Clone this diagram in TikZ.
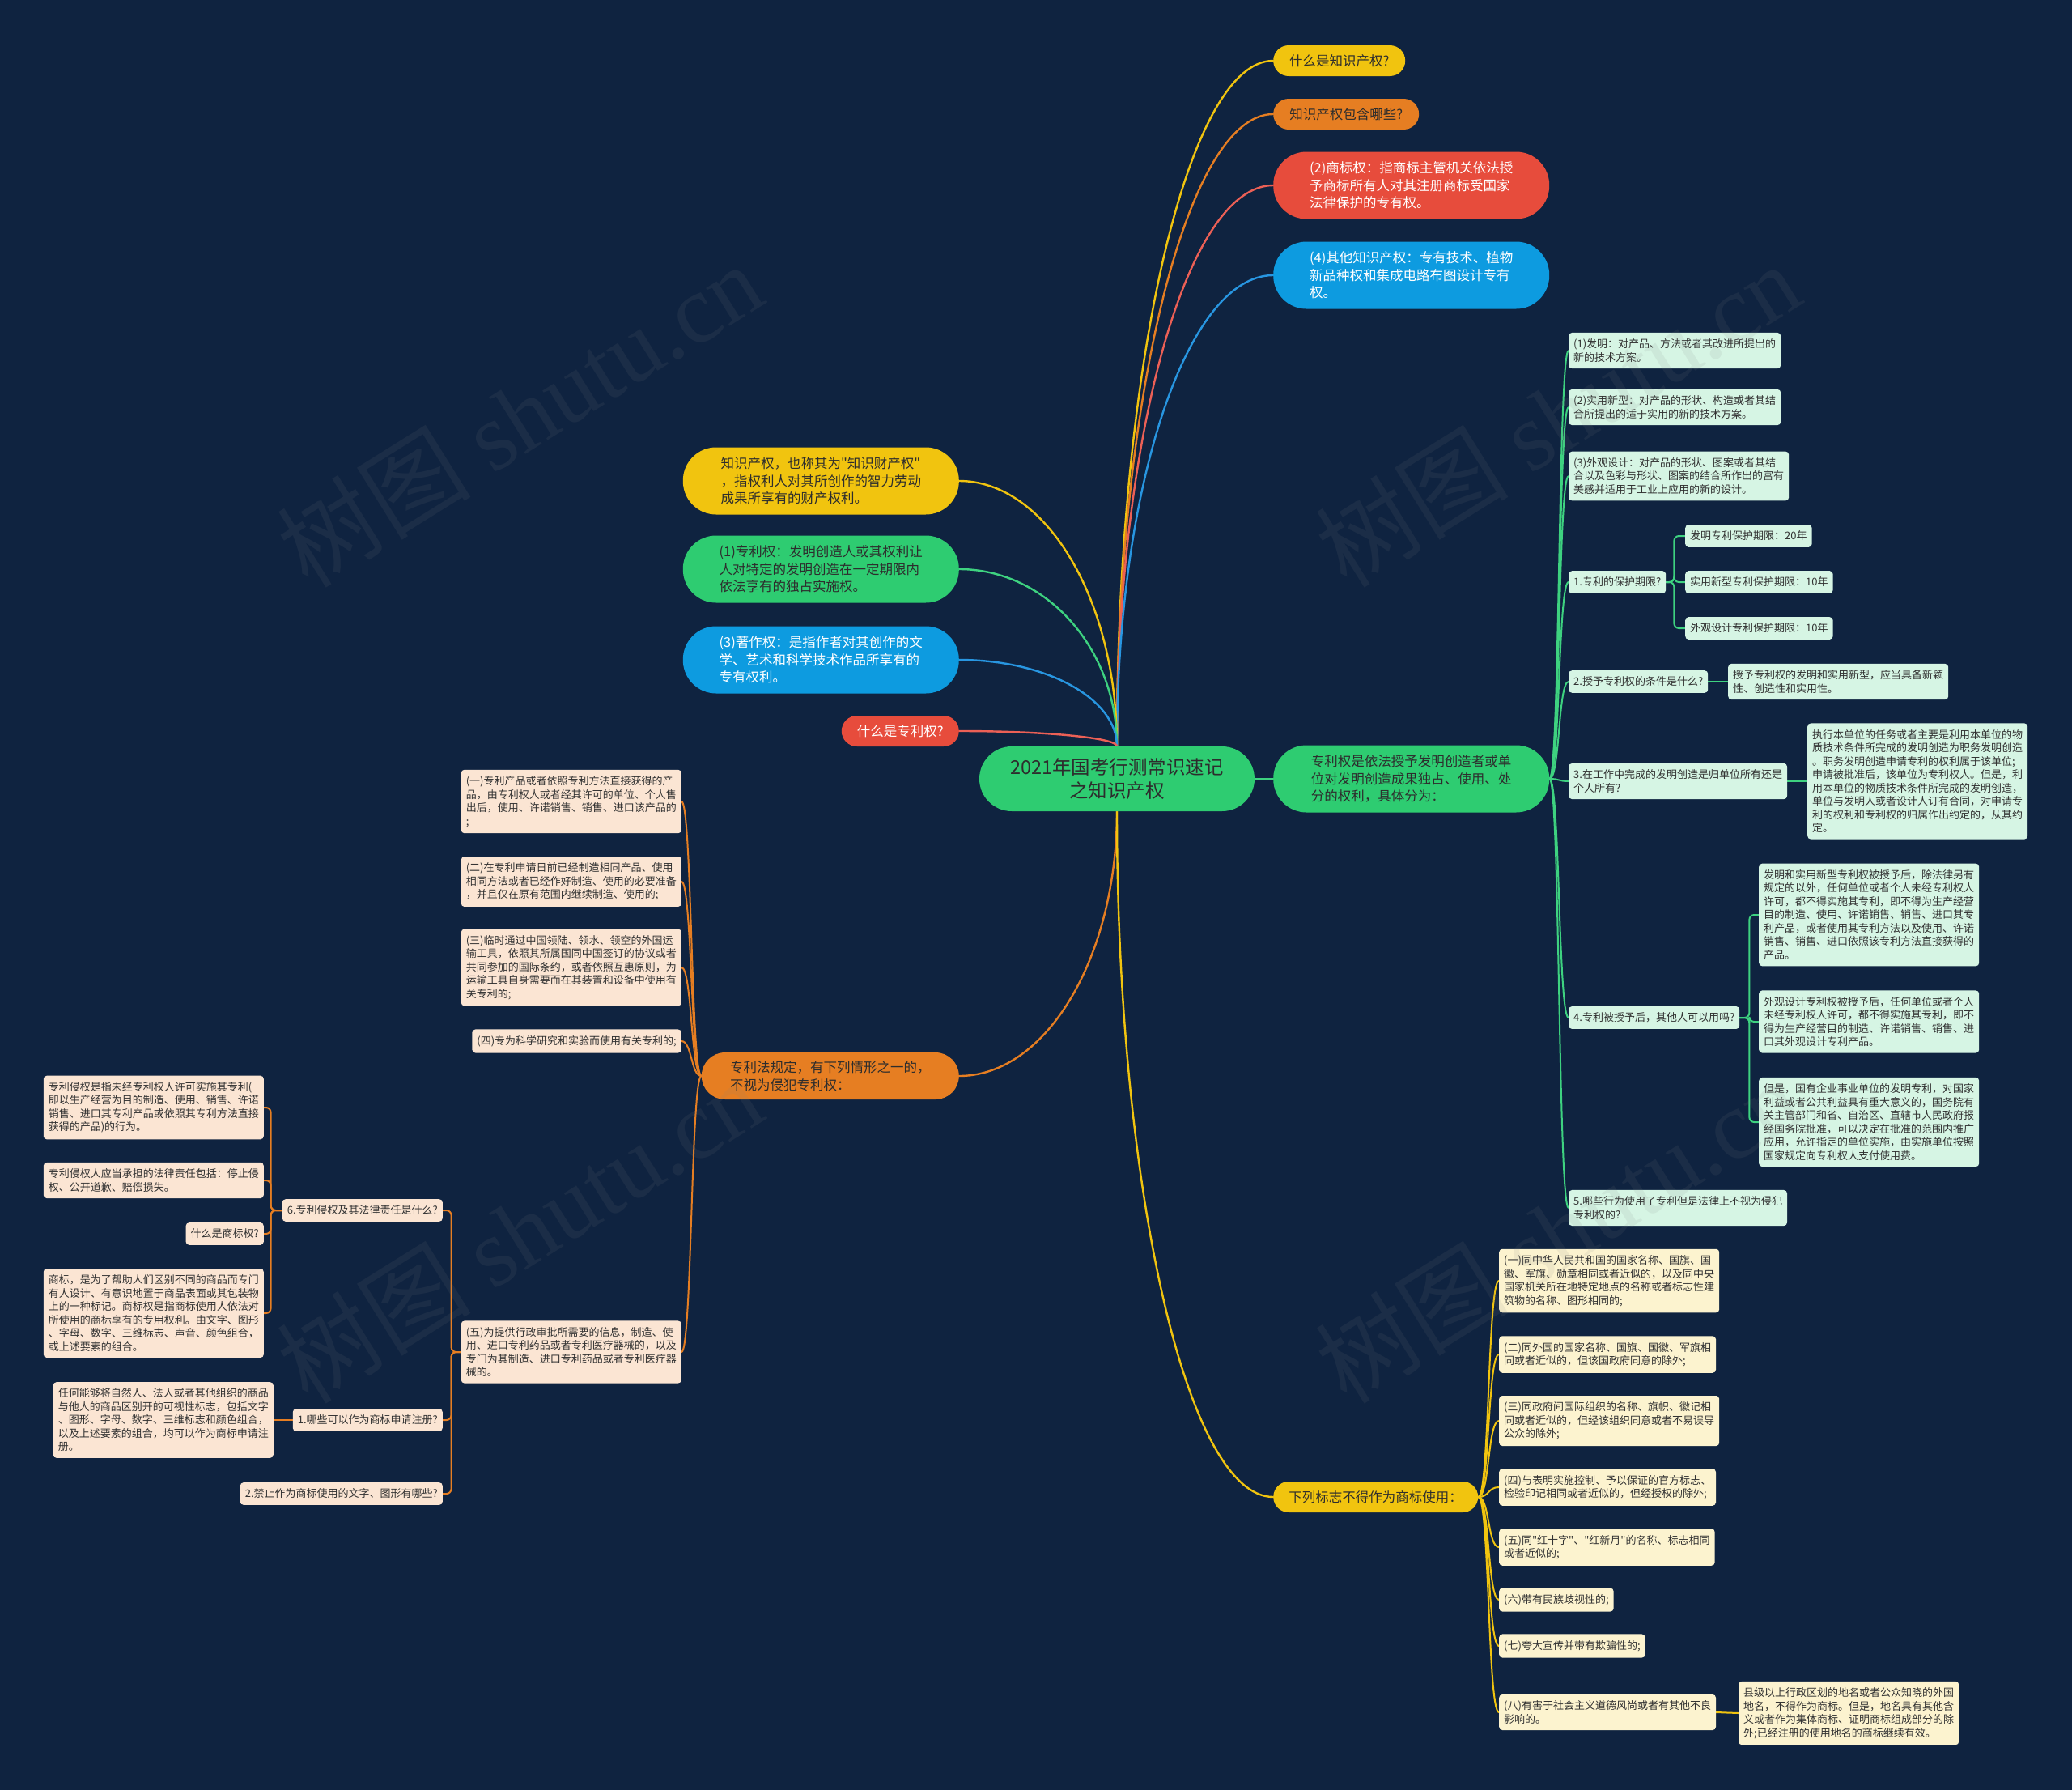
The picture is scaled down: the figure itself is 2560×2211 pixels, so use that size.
\documentclass[tikz,border=0pt]{standalone}
\usepackage{fontspec}
\setmainfont{Noto Sans CJK SC}[Ligatures=TeXOff]
\newfontfamily\wmserif{Liberation Serif}
\usetikzlibrary{calc}
\definecolor{bgc}{RGB}{15,35,64}
\definecolor{cY}{RGB}{241,196,15}
\definecolor{cO}{RGB}{230,126,34}
\definecolor{cR}{RGB}{231,76,60}
\definecolor{cB}{RGB}{13,155,224}
\definecolor{cG}{RGB}{46,204,113}
\definecolor{lineR}{RGB}{236,96,86}
\definecolor{lineB}{RGB}{40,150,225}
\definecolor{lineG}{RGB}{62,210,128}
\definecolor{tdark}{RGB}{45,45,45}
\definecolor{ldark}{RGB}{50,50,50}
\definecolor{lgG}{RGB}{214,245,228}
\definecolor{lgO}{RGB}{251,229,211}
\definecolor{lgY}{RGB}{252,243,207}
\newcommand\fleaf{\fontsize{13}{16.5}\selectfont}
\newcommand\fpill{\fontsize{16.5}{21.5}\selectfont}
\newcommand\fcenter{\fontsize{23.5}{29}\selectfont}
\newcommand\fwm{\fontsize{120}{140}\selectfont}
\pgfdeclarelayer{bglayer}
\pgfsetlayers{bglayer,main}
\tikzset{
  pillbase/.style={inner sep=0pt, font=\fpill, align=left},
  pY/.style={pillbase, fill=cY, text=tdark},
  pO/.style={pillbase, fill=cO, text=tdark},
  pR/.style={pillbase, fill=cR, text=white},
  pB/.style={pillbase, fill=cB, text=white},
  pG/.style={pillbase, fill=cG, text=tdark},
  smallpill/.style={minimum height=38pt, rounded corners=19pt},
  bigpill/.style={minimum height=83pt, rounded corners=41pt},
  leaf/.style={inner xsep=6pt, inner ysep=7.75pt, rounded corners=4pt, font=\fleaf, align=left, text=ldark},
  lG/.style={leaf, fill=lgG},
  lO/.style={leaf, fill=lgO},
  lY/.style={leaf, fill=lgY},
  mainline/.style={line width=2.4pt, line cap=round},
  subline/.style={line width=2pt, line cap=round},
  vh/.style={to path={let \p1=(\tikztostart), \p2=(\tikztotarget) in
     .. controls (\x1,{\y1+0.552*(\y2-\y1)}) and ({\x2-0.552*(\x2-\x1)},\y2) .. (\tikztotarget)}},
  wmark/.style={text=gray, opacity=0.11, rotate=32, inner sep=0pt},
}
\begin{document}
\begin{tikzpicture}[x=1pt,y=-1pt]
\useasboundingbox (0,0) rectangle (2560,2211);

% ---------- main topic and first-level pills ----------
\node[pG, font=\fcenter, align=center, minimum width=340pt, minimum height=80pt, rounded corners=40pt] (c) at (1380,962) {2021年国考行测常识速记\\之知识产权};

\node[pY, smallpill, minimum width=163pt, anchor=west] (q1) at (1573,75) {什么是知识产权?};
\node[pO, smallpill, minimum width=180pt, anchor=west] (q2) at (1573,141) {知识产权包含哪些?};
\node[pR, bigpill, minimum width=341pt, anchor=west] (tm) at (1573,229) {(2)商标权：指商标主管机关依法授\\予商标所有人对其注册商标受国家\\法律保护的专有权。};
\node[pB, bigpill, minimum width=341pt, anchor=west] (ot) at (1573,340) {(4)其他知识产权：专有技术、植物\\新品种权和集成电路布图设计专有\\权。};

\node[pY, bigpill, minimum width=341pt, anchor=east] (ip) at (1185,594) {知识产权，也称其为"知识财产权"\\，指权利人对其所创作的智力劳动\\成果所享有的财产权利。};
\node[pG, bigpill, minimum width=341pt, anchor=east] (pt) at (1185,703) {(1)专利权：发明创造人或其权利让\\人对特定的发明创造在一定期限内\\依法享有的独占实施权。};
\node[pB, bigpill, minimum width=341pt, anchor=east] (cr) at (1185,815) {(3)著作权：是指作者对其创作的文\\学、艺术和科学技术作品所享有的\\专有权利。};
\node[pR, smallpill, minimum width=145pt, anchor=east] (qp) at (1185,903) {什么是专利权?};

\node[pG, bigpill, minimum width=341pt, anchor=west] (pm) at (1573,962) {专利权是依法授予发明创造者或单\\位对发明创造成果独占、使用、处\\分的权利，具体分为：};
\node[pO, minimum width=318pt, minimum height=58pt, rounded corners=29pt, anchor=east] (inf) at (1185,1329) {专利法规定，有下列情形之一的，\\不视为侵犯专利权：};
\node[pY, smallpill, minimum width=253pt, anchor=west] (tmk) at (1573,1849) {下列标志不得作为商标使用：};

% ---------- green branch ----------
\node[lG, anchor=west] (g1) at (1938,433) {(1)发明：对产品、方法或者其改进所提出的\\新的技术方案。};
\node[lG, anchor=west] (g2) at (1938,503) {(2)实用新型：对产品的形状、构造或者其结\\合所提出的适于实用的新的技术方案。};
\node[lG, anchor=west] (g3) at (1938,588) {(3)外观设计：对产品的形状、图案或者其结\\合以及色彩与形状、图案的结合所作出的富有\\美感并适用于工业上应用的新的设计。};
\node[lG, anchor=west] (g4) at (1938,719) {1.专利的保护期限?};
\node[lG, anchor=west] (g41) at (2082,662) {发明专利保护期限：20年};
\node[lG, anchor=west] (g42) at (2082,719) {实用新型专利保护期限：10年};
\node[lG, anchor=west] (g43) at (2082,776) {外观设计专利保护期限：10年};
\node[lG, anchor=west] (g5) at (1938,842) {2.授予专利权的条件是什么?};
\node[lG, anchor=west] (g51) at (2135,842) {授予专利权的发明和实用新型，应当具备新颖\\性、创造性和实用性。};
\node[lG, anchor=west] (g6) at (1938,965) {3.在工作中完成的发明创造是归单位所有还是\\个人所有?};
\node[lG, anchor=west] (g61) at (2233,965) {执行本单位的任务或者主要是利用本单位的物\\质技术条件所完成的发明创造为职务发明创造\\。职务发明创造申请专利的权利属于该单位;\\申请被批准后，该单位为专利权人。但是，利\\用本单位的物质技术条件所完成的发明创造，\\单位与发明人或者设计人订有合同，对申请专\\利的权利和专利权的归属作出约定的，从其约\\定。};
\node[lG, anchor=west] (g7) at (1938,1257) {4.专利被授予后，其他人可以用吗?};
\node[lG, anchor=west] (g71) at (2173,1130) {发明和实用新型专利权被授予后，除法律另有\\规定的以外，任何单位或者个人未经专利权人\\许可，都不得实施其专利，即不得为生产经营\\目的制造、使用、许诺销售、销售、进口其专\\利产品，或者使用其专利方法以及使用、许诺\\销售、销售、进口依照该专利方法直接获得的\\产品。};
\node[lG, anchor=west] (g72) at (2173,1262) {外观设计专利权被授予后，任何单位或者个人\\未经专利权人许可，都不得实施其专利，即不\\得为生产经营目的制造、许诺销售、销售、进\\口其外观设计专利产品。};
\node[lG, anchor=west] (g73) at (2173,1386) {但是，国有企业事业单位的发明专利，对国家\\利益或者公共利益具有重大意义的，国务院有\\关主管部门和省、自治区、直辖市人民政府报\\经国务院批准，可以决定在批准的范围内推广\\应用，允许指定的单位实施，由实施单位按照\\国家规定向专利权人支付使用费。};
\node[lG, anchor=west] (g8) at (1938,1492) {5.哪些行为使用了专利但是法律上不视为侵犯\\专利权的?};

% ---------- orange branch ----------
\node[lO, anchor=east] (o1) at (842,990) {(一)专利产品或者依照专利方法直接获得的产\\品，由专利权人或者经其许可的单位、个人售\\出后，使用、许诺销售、销售、进口该产品的\\;};
\node[lO, anchor=east] (o2) at (842,1089) {(二)在专利申请日前已经制造相同产品、使用\\相同方法或者已经作好制造、使用的必要准备\\，并且仅在原有范围内继续制造、使用的;};
\node[lO, anchor=east] (o3) at (842,1195) {(三)临时通过中国领陆、领水、领空的外国运\\输工具，依照其所属国同中国签订的协议或者\\共同参加的国际条约，或者依照互惠原则，为\\运输工具自身需要而在其装置和设备中使用有\\关专利的;};
\node[lO, anchor=east] (o4) at (842,1286) {(四)专为科学研究和实验而使用有关专利的;};
\node[lO, anchor=east] (o5) at (842,1670) {(五)为提供行政审批所需要的信息，制造、使\\用、进口专利药品或者专利医疗器械的，以及\\专门为其制造、进口专利药品或者专利医疗器\\械的。};
\node[lO, anchor=east] (p6) at (547,1495) {6.专利侵权及其法律责任是什么?};
\node[lO, anchor=east] (p61) at (326,1368) {专利侵权是指未经专利权人许可实施其专利(\\即以生产经营为目的制造、使用、销售、许诺\\销售、进口其专利产品或依照其专利方法直接\\获得的产品)的行为。};
\node[lO, anchor=east] (p62) at (326,1458) {专利侵权人应当承担的法律责任包括：停止侵\\权、公开道歉、赔偿损失。};
\node[lO, anchor=east] (p63) at (326,1524) {什么是商标权?};
\node[lO, anchor=east] (p64) at (326,1622) {商标，是为了帮助人们区别不同的商品而专门\\有人设计、有意识地置于商品表面或其包装物\\上的一种标记。商标权是指商标使用人依法对\\所使用的商标享有的专用权利。由文字、图形\\、字母、数字、三维标志、声音、颜色组合，\\或上述要素的组合。};
\node[lO, anchor=east] (p1) at (547,1754) {1.哪些可以作为商标申请注册?};
\node[lO, anchor=east] (p11) at (338,1754) {任何能够将自然人、法人或者其他组织的商品\\与他人的商品区别开的可视性标志，包括文字\\、图形、字母、数字、三维标志和颜色组合，\\以及上述要素的组合，均可以作为商标申请注\\册。};
\node[lO, anchor=east] (p2) at (547,1845) {2.禁止作为商标使用的文字、图形有哪些?};

% ---------- yellow branch ----------
\node[lY, anchor=west] (y1) at (1852,1582) {(一)同中华人民共和国的国家名称、国旗、国\\徽、军旗、勋章相同或者近似的，以及同中央\\国家机关所在地特定地点的名称或者标志性建\\筑物的名称、图形相同的;};
\node[lY, anchor=west] (y2) at (1852,1673) {(二)同外国的国家名称、国旗、国徽、军旗相\\同或者近似的，但该国政府同意的除外;};
\node[lY, anchor=west] (y3) at (1852,1755) {(三)同政府间国际组织的名称、旗帜、徽记相\\同或者近似的，但经该组织同意或者不易误导\\公众的除外;};
\node[lY, anchor=west] (y4) at (1852,1837) {(四)与表明实施控制、予以保证的官方标志、\\检验印记相同或者近似的，但经授权的除外;};
\node[lY, anchor=west] (y5) at (1852,1911) {(五)同"红十字"、"红新月"的名称、标志相同\\或者近似的;};
\node[lY, anchor=west] (y6) at (1852,1976) {(六)带有民族歧视性的;};
\node[lY, anchor=west] (y7) at (1852,2033) {(七)夸大宣传并带有欺骗性的;};
\node[lY, anchor=west] (y8) at (1852,2115) {(八)有害于社会主义道德风尚或者有其他不良\\影响的。};
\node[lY, anchor=west] (y81) at (2148,2116) {县级以上行政区划的地名或者公众知晓的外国\\地名，不得作为商标。但是，地名具有其他含\\义或者作为集体商标、证明商标组成部分的除\\外;已经注册的使用地名的商标继续有效。};

% ---------- connectors (behind the nodes) ----------
\begin{pgfonlayer}{bglayer}
\fill[bgc] (0,0) rectangle (2560,2211);
\draw[mainline, draw=cY] (c.north) to[vh] (q1.west);
\draw[mainline, draw=cO] (c.north) to[vh] (q2.west);
\draw[mainline, draw=lineR] (c.north) to[vh] (tm.west);
\draw[mainline, draw=lineB] (c.north) to[vh] (ot.west);
\draw[mainline, draw=cY] (c.north) to[vh] (ip.east);
\draw[mainline, draw=lineG] (c.north) to[vh] (pt.east);
\draw[mainline, draw=lineB] (c.north) to[vh] (cr.east);
\draw[mainline, draw=lineR] (c.north) to[vh] (qp.east);
\draw[mainline, draw=cO] (c.south) to[vh] (inf.east);
\draw[mainline, draw=cY] (c.south) to[vh] (tmk.west);
\draw[mainline, draw=lineG] (c.east) -- (pm.west);

\foreach \t in {g1,g2,g3,g4,g5,g6,g7,g8}
  \draw[subline, draw=lineG] (pm.east) .. controls +(13,0) and +(-13,0) .. (\t.west);
\foreach \t in {g41,g42,g43}
  \draw[subline, draw=lineG, rounded corners=6pt] (g4.east) -- ++(10,0) |- (\t.west);
\draw[subline, draw=lineG] (g5.east) -- (g51.west);
\draw[subline, draw=lineG] (g6.east) -- (g61.west);
\foreach \t in {g71,g72,g73}
  \draw[subline, draw=lineG, rounded corners=6pt] (g7.east) -- ++(12,0) |- (\t.west);

\foreach \t in {o1,o2,o3,o4,o5}
  \draw[subline, draw=cO] (inf.west) .. controls +(-13,0) and +(13,0) .. (\t.east);
\foreach \t in {p6,p1,p2}
  \draw[subline, draw=cO, rounded corners=6pt] (o5.west) -- ++(-12,0) |- (\t.east);
\foreach \t in {p61,p62,p63,p64}
  \draw[subline, draw=cO, rounded corners=6pt] (p6.west) -- ++(-14,0) |- (\t.east);
\draw[subline, draw=cO] (p1.west) -- (p11.east);

\foreach \t in {y1,y2,y3,y4,y5,y6,y7,y8}
  \draw[subline, draw=cY] (tmk.east) .. controls +(14,0) and +(-14,0) .. (\t.west);
\draw[subline, draw=cY] (y8.east) -- (y81.west);
\end{pgfonlayer}

% ---------- watermarks ----------
\node[wmark] (wm1) at (642,512) {{\fwm 树图 \wmserif shutu.cn}};
\node[wmark] (wm2) at (1924,512) {{\fwm 树图 \wmserif shutu.cn}};
\node[wmark] (wm3) at (642,1520) {{\fwm 树图 \wmserif shutu.cn}};
\node[wmark] (wm4) at (1924,1520) {{\fwm 树图 \wmserif shutu.cn}};
\end{tikzpicture}
\end{document}
